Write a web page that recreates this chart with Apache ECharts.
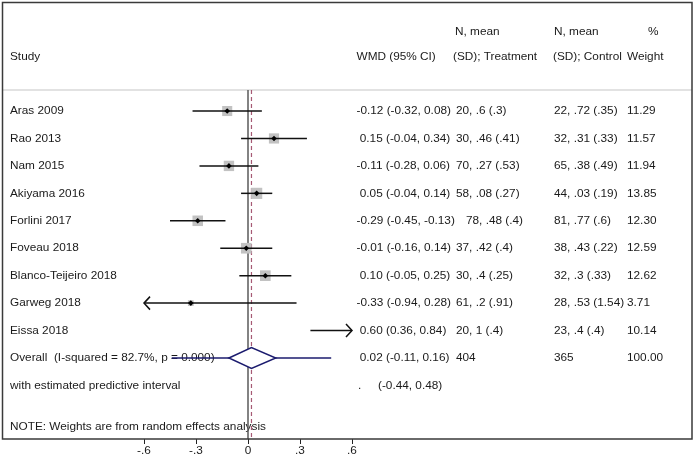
<!DOCTYPE html>
<html>
<head>
<meta charset="utf-8">
<script src="https://cdn.jsdelivr.net/npm/echarts@6/dist/echarts.min.js"></script>
<style>html,body{margin:0;padding:0;background:#fff}#chart{width:696px;height:463px}</style>
</head>
<body>
<div id="chart"></div>
<script>
// ---------- data ----------
const studies = ['Aras 2009','Rao 2013','Nam 2015','Akiyama 2016','Forlini 2017','Foveau 2018','Blanco-Teijeiro 2018','Garweg 2018','Eissa 2018'];
const wmd    = [-0.12, 0.15, -0.11, 0.05, -0.29, -0.01, 0.10, -0.33, 0.60];
const ciLow  = [-0.32, -0.04, -0.28, -0.04, -0.45, -0.16, -0.05, -0.94, 0.36];
const ciHigh = [0.08, 0.34, 0.06, 0.14, -0.13, 0.14, 0.25, 0.28, 0.84];
const treatment = ['20, .6 (.3)','30, .46 (.41)','70, .27 (.53)','58, .08 (.27)','78, .48 (.4)','37, .42 (.4)','30, .4 (.25)','61, .2 (.91)','20, 1 (.4)'];
const control   = ['22, .72 (.35)','32, .31 (.33)','65, .38 (.49)','44, .03 (.19)','81, .77 (.6)','38, .43 (.22)','32, .3 (.33)','28, .53 (1.54)','23, .4 (.4)'];
const weights = [11.29, 11.57, 11.94, 13.85, 12.30, 12.59, 12.62, 3.71, 10.14];
const overallEst = 0.02, overallLo = -0.11, overallHi = 0.16;
const predLo = -0.44, predHi = 0.48;
const iSquared = '82.7', pValue = '0.000';
const totalTreatment = '404', totalControl = '365', totalWeight = '100.00';
const tickValues = [-0.6, -0.3, 0, 0.3, 0.6];
const tickLabels = ['-.6', '-.3', '0', '.3', '.6'];
const headers = {study:'Study', wmd:'WMD (95% CI)', n1:'N, mean', treat:'(SD); Treatment', n2:'N, mean', ctrl:'(SD); Control', pct:'%', weight:'Weight'};
const noteText = 'NOTE: Weights are from random effects analysis';
const predText = 'with estimated predictive interval';

// ---------- layout ----------
const FONT_FAMILY = '"Liberation Sans", Arial, Helvetica, sans-serif';
const FS = 11.8;
const TXT = '#1a1a1a';
const X_MIN = -0.6, X_MAX = 0.6;
const Y_MIN = -3.972, Y_MAX = 11.951;
const COL = {study:10, wmd:356.5, treat:456, ctrl:554, weight:627};
const BOX = {x1:2.5, y1:2.5, x2:692, y2:439};
const HEADER_LINE_Y = 90;
const CHAR_SHIFT = 10; // Stata pads columns by character count

const fmt = v => v.toFixed(2);
const ciStr = (e, l, h) => (e < 0 ? '' : ' ') + fmt(e) + ' (' + fmt(l) + ', ' + fmt(h) + ')';

function txt(x, y, s, extra) {
  return Object.assign({type:'text', x:x, y:y, style:{text:s, fill:TXT, fontSize:FS, fontFamily:FONT_FAMILY, align:'left', verticalAlign:'middle'}}, extra || {});
}

const studyData = studies.map((s, i) => [wmd[i], i, ciLow[i], ciHigh[i], weights[i]]);

const chart = echarts.init(document.getElementById('chart'), null, {renderer:'canvas'});
chart.setOption({
  animation: false,
  grid: {left:144, right:696 - 352, top:2, bottom:463 - 439},
  xAxis: {
    type:'value', min:X_MIN, max:X_MAX, interval:0.3,
    axisLine:{show:false, onZero:false}, splitLine:{show:false},
    axisTick:{show:true, length:5, lineStyle:{color:'#222', width:1}},
    axisLabel:{margin:6, color:TXT, fontSize:FS, fontFamily:FONT_FAMILY,
      formatter: v => { const k = tickValues.findIndex(t => Math.abs(t - v) < 1e-9); return k >= 0 ? tickLabels[k] : ''; }}
  },
  yAxis: {type:'value', inverse:true, min:Y_MIN, max:Y_MAX, show:false},
  graphic: [
    {type:'line', z:1, shape:{x1:BOX.x1, y1:HEADER_LINE_Y, x2:BOX.x2, y2:HEADER_LINE_Y}, style:{stroke:'#d8d8d8', lineWidth:1.5}},
    {type:'rect', z:50, shape:{x:BOX.x1, y:BOX.y1, width:BOX.x2 - BOX.x1, height:BOX.y2 - BOX.y1}, style:{fill:null, stroke:'#3a3a3a', lineWidth:1.5}},
    txt(COL.study, 57, headers.study),
    txt(COL.wmd, 57, headers.wmd),
    txt(COL.treat - 1, 32, headers.n1),
    txt(COL.treat - 3, 57, headers.treat),
    txt(COL.ctrl, 32, headers.n2),
    txt(COL.ctrl - 1, 57, headers.ctrl),
    txt(648, 32, headers.pct),
    txt(COL.weight, 57, headers.weight),
    txt(COL.study, 427, noteText)
  ],
  series: [
    { // reference lines
      type:'custom', clip:false, z:2,
      data:[[0, overallEst]],
      renderItem: function (params, api) {
        const x0 = api.coord([api.value(0), 0])[0];
        const xe = api.coord([api.value(1), 0])[0];
        return {type:'group', children:[
          {type:'line', shape:{x1:x0, y1:HEADER_LINE_Y, x2:x0, y2:BOX.y2}, style:{stroke:'#5a5a5a', lineWidth:1.5}},
          {type:'line', shape:{x1:xe, y1:HEADER_LINE_Y, x2:xe, y2:BOX.y2}, style:{stroke:'#a65a74', lineWidth:1.2, lineDash:[4, 3]}}
        ]};
      }
    },
    { // studies
      type:'custom', clip:false, z:3,
      data: studyData,
      encode:{x:[0, 2, 3], y:1},
      renderItem: function (params, api) {
        const i = params.dataIndex;
        const est = api.value(0), row = api.value(1), lo = api.value(2), hi = api.value(3), w = api.value(4);
        const yc = api.coord([0, row])[1];
        const xl = api.coord([Math.max(lo, X_MIN), row])[0];
        const xr = api.coord([Math.min(hi, X_MAX), row])[0];
        const ch = [];
        const inRange = est > X_MIN && est < X_MAX;
        if (inRange) {
          const s = 3 * Math.sqrt(w);
          const xc = api.coord([est, row])[0];
          ch.push({type:'rect', shape:{x:xc - s / 2, y:yc - s / 2, width:s, height:s}, style:{fill:'#c2c2c2'}});
        }
        ch.push({type:'line', shape:{x1:xl, y1:yc, x2:xr, y2:yc}, style:{stroke:'#111', lineWidth:1.5}});
        if (lo < X_MIN) ch.push({type:'polyline', shape:{points:[[xl + 6, yc - 6.5], [xl, yc], [xl + 6, yc + 6.5]]}, style:{stroke:'#111', lineWidth:1.5, fill:null}});
        if (hi > X_MAX) ch.push({type:'polyline', shape:{points:[[xr - 6, yc - 6.5], [xr, yc], [xr - 6, yc + 6.5]]}, style:{stroke:'#111', lineWidth:1.5, fill:null}});
        if (inRange) {
          const xc = api.coord([est, row])[0];
          const d = 2.8;
          ch.push({type:'polygon', shape:{points:[[xc, yc - d], [xc + d, yc], [xc, yc + d], [xc - d, yc]]}, style:{fill:'#000'}});
        }
        const ci = ciStr(est, lo, hi);
        const tx = COL.treat + Math.max(0, ci.trim().length - 19) * CHAR_SHIFT;
        ch.push(txt(COL.study, yc, studies[i]));
        ch.push(txt(COL.wmd, yc, ci));
        ch.push(txt(tx, yc, treatment[i]));
        ch.push(txt(COL.ctrl, yc, control[i]));
        ch.push(txt(COL.weight, yc, fmt(w)));
        return {type:'group', children:ch};
      }
    },
    { // overall
      type:'custom', clip:false, z:4,
      data:[[overallEst, studies.length, overallLo, overallHi, predLo, predHi]],
      encode:{x:[0, 2, 3, 4, 5], y:1},
      renderItem: function (params, api) {
        const est = api.value(0), row = api.value(1), lo = api.value(2), hi = api.value(3), pl = api.value(4), ph = api.value(5);
        const yc = api.coord([0, row])[1];
        const y2 = api.coord([0, row + 1])[1];
        const xe = api.coord([est, row])[0], xl = api.coord([lo, row])[0], xh = api.coord([hi, row])[0];
        const xpl = api.coord([pl, row])[0], xph = api.coord([ph, row])[0];
        const h = 10.5;
        const navy = '#1b1b6e';
        return {type:'group', children:[
          txt(COL.study, yc, 'Overall  (I-squared = ' + iSquared + '%, p = ' + pValue + ')'),
          txt(COL.wmd, yc, ciStr(est, lo, hi)),
          txt(COL.treat, yc, totalTreatment),
          txt(COL.ctrl, yc, totalControl),
          txt(COL.weight, yc, totalWeight),
          txt(COL.study, y2, predText),
          txt(COL.wmd + 1.5, y2, '.'),
          txt(COL.wmd + 21.5, y2, '(' + fmt(pl) + ', ' + fmt(ph) + ')'),
          {type:'line', shape:{x1:xpl, y1:yc, x2:xph, y2:yc}, style:{stroke:navy, lineWidth:1.5}},
          {type:'polygon', shape:{points:[[xl, yc], [xe, yc - h], [xh, yc], [xe, yc + h]]}, style:{fill:'#fff', stroke:navy, lineWidth:1.5}}
        ]};
      }
    }
  ]
});
</script>
</body>
</html>
